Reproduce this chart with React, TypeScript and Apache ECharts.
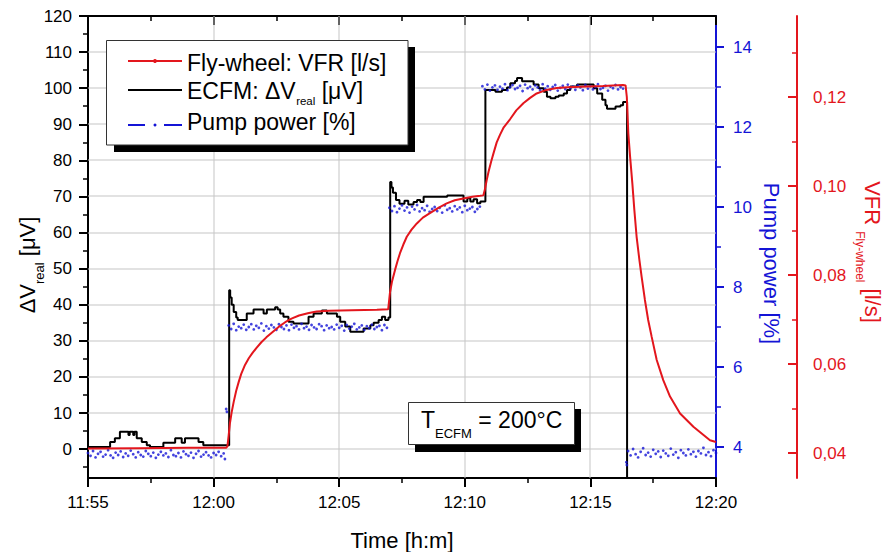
import React, { useEffect, useRef } from 'react';
import * as echarts from 'echarts';

// ---------- tick labels / tick values ----------
const xTickLabels = ['11:55', '12:00', '12:05', '12:10', '12:15', '12:20'];
const xGridValues = [5, 10, 15, 20];
const leftTicks = [0, 10, 20, 30, 40, 50, 60, 70, 80, 90, 100, 110, 120];
const leftGridValues = [0, 10, 20, 30, 40, 50, 60, 70, 80, 90, 100, 110];
const leftMinorTicks = [-5, 5, 15, 25, 35, 45, 55, 65, 75, 85, 95, 105, 115];
const pumpTicks = [4, 6, 8, 10, 12, 14];
const pumpMinorTicks = [5, 7, 9, 11, 13];
const vfrTicks = [0.04, 0.06, 0.08, 0.1, 0.12];
const vfrMinorTicks = [0.05, 0.07, 0.09, 0.11, 0.13];

// ---------- ECFM signal ΔV_real [µV] : [minutes after 11:55, value] (value holds until next point) ----------
const ecfmSignal: [number, number][] = [
  [0, 0.6], [0.88, 2], [1.07, 3], [1.27, 4.8], [1.61, 3.9], [1.66, 4.8], [1.8, 3.9], [1.85, 4.8],
  [1.94, 3], [2.14, 2], [2.34, 1.1], [2.47, 0.6], [3.0, 1.8], [3.47, 3], [3.73, 1.8], [3.86, 3],
  [4.4, 2], [4.59, 1.1],
  [5.62, 44], [5.66, 42], [5.72, 40], [5.8, 38], [5.9, 36.5], [5.96, 35.8], [6.32, 37.6], [6.59, 38.7],
  [6.99, 37.6], [7.12, 38.7], [7.45, 39.3], [7.55, 38.7], [7.65, 37.6], [7.78, 36.7], [7.98, 35.3],
  [8.18, 34.8], [8.78, 36.7], [8.98, 37.6], [9.31, 38.4], [9.51, 37.6], [9.91, 36.7], [10.04, 35.3],
  [10.24, 34], [10.44, 32.5], [10.97, 33.4], [11.24, 34.3], [11.37, 35], [11.57, 35.8], [11.7, 36.7],
  [11.83, 35.8], [11.96, 36.5],
  [12.03, 74], [12.08, 72.5], [12.14, 71], [12.26, 69], [12.4, 68], [12.6, 68.8], [12.75, 67.8],
  [12.96, 68.5], [13.1, 69], [13.23, 68.5], [13.36, 69.9], [14.3, 70.3], [14.95, 68.6], [15.1, 69.5],
  [15.22, 68.6], [15.35, 69.2], [15.49, 68.1], [15.62, 68.6],
  [15.82, 99.5], [16.22, 99], [16.48, 99.5], [16.68, 100.2], [16.81, 101.4], [17.0, 102], [17.08, 102.8],
  [17.28, 101.9], [17.74, 101], [17.94, 100], [18.14, 99], [18.27, 97.6], [18.41, 97.2], [18.61, 97.6],
  [18.74, 98], [18.94, 98.5], [19.07, 99.5], [19.2, 100.5], [19.47, 101], [20.13, 100], [20.27, 98.5],
  [20.47, 96.8], [20.6, 95.3], [20.66, 94.3], [21.0, 94.9], [21.2, 95.3], [21.3, 96.2],
  [21.46, -12], [21.6, -12],
];

// ---------- Fly-wheel VFR [l/s] : [minutes after 11:55, value] ----------
const flywheelVfr: [number, number][] = [
  [0, 0.041], [2, 0.0411], [4, 0.0412], [5.5, 0.0412],
  [5.55, 0.0415], [5.6, 0.044], [5.65, 0.0467], [5.72, 0.0492], [5.8, 0.0515], [5.9, 0.054],
  [6.0, 0.056], [6.1, 0.0578], [6.25, 0.0598], [6.4, 0.0613], [6.55, 0.0625], [6.7, 0.0636],
  [6.9, 0.0649], [7.1, 0.066], [7.35, 0.0672], [7.6, 0.0684], [7.85, 0.0694], [8.1, 0.0702],
  [8.4, 0.0709], [8.75, 0.0714], [9.1, 0.0718], [9.6, 0.072], [10.5, 0.0721], [11.5, 0.0722], [11.95, 0.0723],
  [12.02, 0.076], [12.1, 0.0785], [12.22, 0.0811], [12.32, 0.0831], [12.42, 0.0849], [12.55, 0.0868],
  [12.69, 0.0886], [12.88, 0.0902], [13.09, 0.0916], [13.33, 0.0929], [13.61, 0.0939], [13.95, 0.0951],
  [14.28, 0.0961], [14.6, 0.0968], [14.94, 0.0972], [15.3, 0.0976], [15.61, 0.0978], [15.74, 0.0979],
  [15.8, 0.0992], [15.87, 0.1013], [15.95, 0.1033], [16.05, 0.1055], [16.15, 0.1075], [16.27, 0.1098],
  [16.4, 0.1115], [16.55, 0.1132], [16.8, 0.115], [17.05, 0.117], [17.33, 0.1186], [17.6, 0.1198],
  [17.86, 0.1208], [18.2, 0.1215], [18.66, 0.122], [19.1, 0.1222], [19.59, 0.1223], [20.5, 0.1225],
  [21.3, 0.1227], [21.4, 0.1226],
  [21.45, 0.12], [21.51, 0.1118], [21.58, 0.1066], [21.67, 0.1006], [21.75, 0.0946], [21.84, 0.0886],
  [21.95, 0.0834], [22.04, 0.0796], [22.17, 0.0744], [22.3, 0.0699], [22.44, 0.0661], [22.64, 0.0609],
  [22.9, 0.0564], [23.17, 0.0527], [23.57, 0.0489], [24.1, 0.0459], [24.76, 0.0429], [25, 0.0425],
];

// ---------- Pump power [%] : samples every 0.1 min within each plateau ----------
const SAMPLE_STEP = 0.1;
const pumpPlateau1 = [
  3.85, 3.78, 3.9, 3.74, 3.83, 3.88, 3.76, 3.81, 3.92, 3.79,
  3.73, 3.86, 3.8, 3.89, 3.75, 3.84, 3.78, 3.91, 3.82, 3.74,
  3.87, 3.8, 3.76, 3.9, 3.83, 3.77, 3.86, 3.73, 3.81, 3.88,
  3.79, 3.84, 3.75, 3.92, 3.8, 3.77, 3.85, 3.74, 3.89, 3.82,
  3.78, 3.86, 3.73, 3.83, 3.9, 3.76, 3.81, 3.87, 3.79, 3.74,
  3.85, 3.8, 3.88, 3.77, 3.84,
];
const pumpPlateau2 = [
  7.04, 6.95, 7.08, 6.92, 7.01, 6.97, 7.06, 6.93, 7.0, 7.07,
  6.94, 7.03, 6.98, 7.09, 6.91, 7.02, 6.96, 7.05, 6.99, 6.93,
  7.07, 7.0, 6.95, 7.04, 6.92, 7.06, 6.98, 7.02, 6.94, 7.08,
  6.97, 7.01, 6.93, 7.05, 6.99, 6.95, 7.07, 7.02, 6.92, 7.04,
  6.97, 7.0, 6.94, 7.06, 6.98, 7.03, 6.91, 7.05, 6.96, 7.01,
  7.08, 6.94, 6.99, 7.04, 6.93, 7.02, 6.97, 7.06, 6.95, 7.0,
  7.03, 6.92, 7.05, 6.98,
];
const pumpPlateau3 = [
  9.98, 9.9, 10.02, 9.87, 9.96, 10.04, 9.91, 9.99, 9.86, 10.01,
  9.94, 10.05, 9.89, 9.97, 9.92, 10.03, 9.88, 9.95, 10.0, 9.9,
  9.98, 9.86, 10.04, 9.93, 9.97, 9.89, 10.02, 9.94, 9.99, 9.87,
  10.03, 9.92, 9.96, 10.0, 9.88, 9.95, 10.01,
];
const pumpPlateau4 = [
  13.02, 12.94, 13.06, 12.91, 12.99, 13.04, 12.93, 13.01, 12.96, 13.07,
  12.92, 13.0, 13.05, 12.95, 12.98, 13.03, 12.9, 13.06, 12.97, 13.01,
  12.94, 13.04, 12.99, 12.92, 13.07, 12.96, 13.02, 12.93, 13.0, 13.05,
  12.91, 12.98, 13.03, 12.95, 13.06, 12.97, 13.01, 12.93, 13.04, 12.99,
  12.92, 13.05, 12.96, 13.02, 12.94, 13.0, 13.07, 12.95, 12.98, 13.03,
  12.91, 13.01, 12.97, 13.05, 12.94, 13.0, 12.96,
];
const pumpPlateau5 = [
  3.9, 3.79, 3.95, 3.82, 3.74, 3.88, 3.97, 3.8, 3.86, 3.76,
  3.93, 3.83, 3.89, 3.75, 3.91, 3.84, 3.78, 3.96, 3.81, 3.87,
  3.73, 3.92, 3.85, 3.79, 3.94, 3.82, 3.88, 3.76, 3.9, 3.84,
  3.98, 3.8, 3.87, 3.77, 3.92, 3.85,
];
const pumpPlateauStarts = [0, 5.6, 12.0, 15.7, 21.5];
const pumpTransitions: [number, number][] = [[5.45, 3.7], [5.5, 4.95], [5.53, 4.88], [21.43, 3.62], [21.45, 3.55]];

const FONT = "'Liberation Sans', Arial, Helvetica, sans-serif";
const RED = '#e3161d';
const BLUE = '#1414d6';
const GRID_GRAY = '#c6c6c6';
const GRID_BOX = { left: 88, top: 16, width: 628, height: 462 };
const X_RANGE = [0, 25];
const LEFT_RANGE = [-8, 120];

function buildPumpData(): [number, number][] {
  const plateaus = [pumpPlateau1, pumpPlateau2, pumpPlateau3, pumpPlateau4, pumpPlateau5];
  const out: [number, number][] = [];
  plateaus.forEach((vals, k) => {
    vals.forEach((v, i) => out.push([pumpPlateauStarts[k] + i * SAMPLE_STEP, v]));
  });
  pumpTransitions.forEach((p) => out.push(p));
  return out;
}

function textWidth(text: string, size: number): number {
  const ctx = document.createElement('canvas').getContext('2d');
  if (!ctx) return text.length * size * 0.55;
  ctx.font = `${size}px 'Liberation Sans', Arial, sans-serif`;
  return ctx.measureText(text).width;
}

const tickLabelStyle = { fontSize: 17, fontFamily: FONT, margin: 16 };

function plainText(x: number, y: number, text: string, size: number, fill: string, align = 'left', z = 302) {
  return { type: 'text', z, x, y, style: { text, fontSize: size, fontFamily: FONT, fill, align, verticalAlign: 'middle' } };
}

export default function App() {
  const ref = useRef<HTMLDivElement>(null);
  useEffect(() => {
    const chart = echarts.init(ref.current!, null, { renderer: 'svg' });

    const LEG = 23;
    const row2a = 'ECFM: ΔV';
    const row2b = 'real';
    const row2c = ' [μV]';
    const wA = textWidth(row2a, LEG);
    const wB = textWidth(row2b, 11.5);

    const option: any = {
      animation: false,
      grid: { show: false, ...GRID_BOX, containLabel: false, outerBoundsMode: 'none' },
      xAxis: [
        {
          type: 'value', position: 'bottom', min: X_RANGE[0], max: X_RANGE[1], interval: 5,
          axisLine: { show: true, onZero: false, lineStyle: { color: '#000', width: 2 } },
          axisTick: { show: true, inside: false, length: 9, lineStyle: { color: '#000', width: 2 } },
          minorTick: { show: true, splitNumber: 2, length: 5, lineStyle: { color: '#000', width: 1.5 } },
          axisLabel: {
            ...tickLabelStyle, color: '#000',
            formatter: (v: number) => xTickLabels[Math.round(v / 5)] ?? '',
          },
          splitLine: { show: false },
        },
        {
          type: 'value', position: 'top', min: X_RANGE[0], max: X_RANGE[1], interval: 5,
          axisLine: { show: true, onZero: false, lineStyle: { color: '#000', width: 2 } },
          axisTick: { show: true, inside: true, length: 9, lineStyle: { color: '#000', width: 2 } },
          minorTick: { show: true, splitNumber: 2, length: 5, lineStyle: { color: '#000', width: 1.5 } },
          axisLabel: { show: false },
          splitLine: { show: false },
        },
      ],
      yAxis: [
        {
          type: 'value', position: 'left', min: LEFT_RANGE[0], max: LEFT_RANGE[1],
          axisLine: { show: true, onZero: false, lineStyle: { color: '#000', width: 2 } },
          axisTick: { show: true, inside: false, length: 9, customValues: leftTicks, lineStyle: { color: '#000', width: 2 } },
          axisLabel: { ...tickLabelStyle, color: '#000', customValues: leftTicks },
          splitLine: { show: false },
        },
        {
          type: 'value', position: 'left', min: LEFT_RANGE[0], max: LEFT_RANGE[1],
          axisLine: { show: false, onZero: false },
          axisTick: { show: true, inside: false, length: 5, customValues: leftMinorTicks, lineStyle: { color: '#000', width: 1.5 } },
          axisLabel: { show: false },
          splitLine: { show: false },
        },
        {
          type: 'value', position: 'right', min: 3.225, max: 14.775,
          axisLine: { show: true, onZero: false, lineStyle: { color: BLUE, width: 2 } },
          axisTick: { show: true, inside: false, length: 8, customValues: pumpTicks, lineStyle: { color: BLUE, width: 2 } },
          axisLabel: { ...tickLabelStyle, margin: 17, color: BLUE, customValues: pumpTicks },
          splitLine: { show: false },
        },
        {
          type: 'value', position: 'right', min: 3.225, max: 14.775,
          axisLine: { show: false, onZero: false },
          axisTick: { show: true, inside: false, length: 5, customValues: pumpMinorTicks, lineStyle: { color: BLUE, width: 1.5 } },
          axisLabel: { show: false },
          splitLine: { show: false },
        },
        {
          type: 'value', position: 'right', offset: 81, min: 0.0344, max: 0.1382,
          axisLine: { show: true, onZero: false, lineStyle: { color: RED, width: 2 } },
          axisTick: { show: true, inside: true, length: 9, customValues: vfrTicks, lineStyle: { color: RED, width: 2 } },
          axisLabel: {
            ...tickLabelStyle, color: RED, customValues: vfrTicks,
            formatter: (v: number) => v.toFixed(2).replace('.', ','),
          },
          splitLine: { show: false },
        },
        {
          type: 'value', position: 'right', offset: 81, min: 0.0344, max: 0.1382,
          axisLine: { show: false, onZero: false },
          axisTick: { show: true, inside: true, length: 5, customValues: vfrMinorTicks, lineStyle: { color: RED, width: 1.5 } },
          axisLabel: { show: false },
          splitLine: { show: false },
        },
      ],
      series: [
        {
          name: 'ECFM', type: 'line', xAxisIndex: 0, yAxisIndex: 0, data: ecfmSignal, step: 'end',
          symbol: 'none', showSymbol: false, clip: true,
          lineStyle: { color: '#000', width: 2 }, itemStyle: { color: '#000' }, z: 210,
        },
        {
          name: 'Pump power', type: 'scatter', xAxisIndex: 0, yAxisIndex: 2, data: buildPumpData(),
          symbol: 'circle', symbolSize: 2.8, itemStyle: { color: BLUE }, z: 220,
        },
        {
          name: 'VFR', type: 'line', xAxisIndex: 0, yAxisIndex: 4, data: flywheelVfr,
          symbol: 'none', showSymbol: false, clip: true,
          lineStyle: { color: RED, width: 2 }, itemStyle: { color: RED }, z: 230,
        },
      ],
    };
    chart.setOption(option);

    // pixel position of a (time, ΔV) pair through the chart's own scales
    const toPx = (xv: number, yv: number): [number, number] => {
      let r: any = null;
      try { r = chart.convertToPixel({ xAxisIndex: 0, yAxisIndex: 0 } as any, [xv, yv]); } catch (e) { r = null; }
      if (!Array.isArray(r) || !isFinite(r[0]) || !isFinite(r[1])) {
        try { r = chart.convertToPixel({ gridIndex: 0 } as any, [xv, yv]); } catch (e) { r = null; }
      }
      if (!Array.isArray(r) || !isFinite(r[0]) || !isFinite(r[1])) {
        r = [
          GRID_BOX.left + ((xv - X_RANGE[0]) / (X_RANGE[1] - X_RANGE[0])) * GRID_BOX.width,
          GRID_BOX.top + ((LEFT_RANGE[1] - yv) / (LEFT_RANGE[1] - LEFT_RANGE[0])) * GRID_BOX.height,
        ];
      }
      return [Number(r[0]), Number(r[1])];
    };
    const [left, top] = toPx(X_RANGE[0], LEFT_RANGE[1]);
    const [right, bottom] = toPx(X_RANGE[1], LEFT_RANGE[0]);
    const gridLines: any[] = [];
    xGridValues.forEach((v) => {
      const x = Math.round(toPx(v, 0)[0]);
      gridLines.push({ type: 'rect', z: 200, silent: true, shape: { x: x - 0.5, y: top, width: 1, height: bottom - top }, style: { fill: GRID_GRAY } });
    });
    leftGridValues.forEach((v) => {
      const y = Math.round(toPx(0, v)[1]);
      gridLines.push({ type: 'rect', z: 200, silent: true, shape: { x: left, y: y - 0.5, width: right - left, height: 1 }, style: { fill: GRID_GRAY } });
    });

    const decorations: any[] = [
      // legend box
      { type: 'rect', z: 300, shape: { x: 114, y: 47, width: 301, height: 105 }, style: { fill: '#000' } },
      { type: 'rect', z: 301, shape: { x: 106.5, y: 40.5, width: 301.5, height: 104.5 }, style: { fill: '#fff', stroke: '#333', lineWidth: 1 } },
      { type: 'line', z: 302, shape: { x1: 128, y1: 61, x2: 182, y2: 61 }, style: { stroke: RED, lineWidth: 2 } },
      { type: 'circle', z: 303, shape: { cx: 155, cy: 61, r: 2 }, style: { fill: RED } },
      plainText(187, 62.5, 'Fly-wheel: VFR [l/s]', LEG, '#000'),
      { type: 'line', z: 302, shape: { x1: 128, y1: 90, x2: 182, y2: 90 }, style: { stroke: '#000', lineWidth: 2 } },
      plainText(187, 91, row2a, LEG, '#000'),
      plainText(187 + wA + 0.5, 101, row2b, 11.5, '#000'),
      plainText(187 + wA + 0.5 + wB, 91, row2c, LEG, '#000'),
      { type: 'line', z: 302, shape: { x1: 128, y1: 125, x2: 145, y2: 125 }, style: { stroke: BLUE, lineWidth: 2 } },
      { type: 'circle', z: 302, shape: { cx: 155, cy: 125, r: 1.5 }, style: { fill: BLUE } },
      { type: 'line', z: 302, shape: { x1: 164, y1: 125, x2: 182, y2: 125 }, style: { stroke: BLUE, lineWidth: 2 } },
      plainText(187, 121.5, 'Pump power [%]', LEG, '#000'),

      // temperature annotation box
      { type: 'rect', z: 300, shape: { x: 415, y: 409, width: 166, height: 43 }, style: { fill: '#000' } },
      { type: 'rect', z: 301, shape: { x: 408.5, y: 402.5, width: 166, height: 42 }, style: { fill: '#fff', stroke: '#333', lineWidth: 1 } },
      {
        type: 'text', z: 302, x: 421, y: 419.5,
        style: {
          text: '{a|T}{b|ECFM}{a| = 200°C}', align: 'left', verticalAlign: 'middle',
          rich: {
            a: { fontSize: 23, fontFamily: FONT, fill: '#000', lineHeight: 36 },
            b: { fontSize: 13, fontFamily: FONT, fill: '#000', lineHeight: 13, padding: [27, 0, 0, 0] },
          },
        },
      },

      // axis titles
      {
        type: 'text', z: 302, x: 27.5, y: 265, rotation: Math.PI / 2,
        style: {
          text: '{a|ΔV}{b|real}{a| [μV]}', align: 'center', verticalAlign: 'middle',
          rich: {
            a: { fontSize: 22, fontFamily: FONT, fill: '#000', lineHeight: 36 },
            b: { fontSize: 13, fontFamily: FONT, fill: '#000', lineHeight: 13, padding: [23, 0, 0, 0] },
          },
        },
      },
      plainText(402, 540, 'Time [h:m]', 22, '#000', 'center'),
      {
        type: 'text', z: 302, x: 771.5, y: 263.5, rotation: -Math.PI / 2,
        style: { text: 'Pump power [%]', fontSize: 22, fontFamily: FONT, fill: BLUE, align: 'center', verticalAlign: 'middle' },
      },
      {
        type: 'text', z: 302, x: 872.6, y: 252, rotation: -Math.PI / 2,
        style: {
          text: '{a|VFR}{b|Fly-wheel}{a| [l/s]}', align: 'center', verticalAlign: 'middle',
          rich: {
            a: { fontSize: 22, fontFamily: FONT, fill: RED, lineHeight: 36 },
            b: { fontSize: 12, fontFamily: FONT, fill: RED, lineHeight: 12, padding: [26, 0, 0, 6] },
          },
        },
      },
    ];

    chart.setOption({ graphic: [...gridLines, ...decorations] });
    return () => chart.dispose();
  }, []);
  return (
    <div
      ref={ref}
      style={{ position: 'absolute', left: 0, top: 0, width: 885, height: 552, background: '#fff' }}
    />
  );
}
